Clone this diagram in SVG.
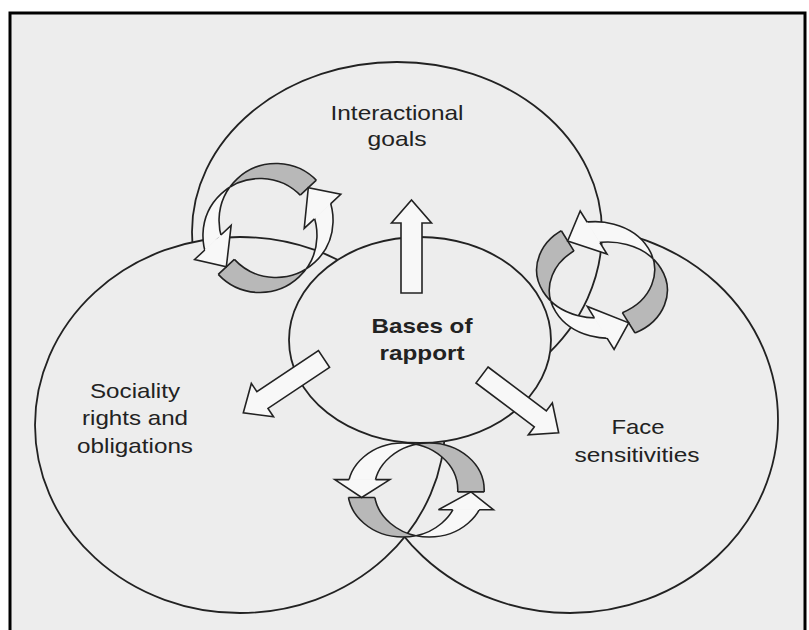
<svg xmlns="http://www.w3.org/2000/svg" width="809" height="630" viewBox="0 0 809 630">
<style>
.frame{fill:#ededed;stroke:#000;stroke-width:3}
.ring{fill:#ededed;stroke:#222;stroke-width:1.8}
.rib{fill-rule:evenodd;stroke:#222;stroke-width:1.6;vector-effect:non-scaling-stroke}
.g{fill:#b8b8b8}
.w{fill:#f8f8f8}
.edge{fill:none;stroke:#222;stroke-width:1.6;vector-effect:non-scaling-stroke}
.head{fill:#f8f8f8;stroke:#222;stroke-width:1.6;stroke-linejoin:miter;vector-effect:non-scaling-stroke}
.arrow{fill:#f8f8f8;stroke:#222;stroke-width:1.6}
.lbl{font-family:"Liberation Sans",Arial,sans-serif;font-size:21px;fill:#222;text-anchor:middle}
.b{font-weight:bold}
</style>
<defs>
<clipPath id="cLg"><rect x="0" y="-100" width="100" height="98"/><rect x="-100" y="0" width="100" height="100"/></clipPath>
<clipPath id="cLw"><rect x="0" y="25" width="100" height="75"/><rect x="-100" y="-100" width="100" height="73"/></clipPath>
<clipPath id="cBg"><rect x="0" y="-100" width="100" height="102"/><rect x="-100" y="8" width="100" height="92"/></clipPath>
<clipPath id="cBw"><rect x="0" y="21" width="100" height="79"/><rect x="-100" y="-100" width="100" height="89"/></clipPath>
<clipPath id="cRg"><rect x="0" y="-100" width="100" height="100"/><rect x="-100" y="8" width="100" height="92"/></clipPath>
<clipPath id="cRw"><rect x="0" y="25" width="100" height="75"/><rect x="-100" y="-100" width="100" height="83"/></clipPath>
</defs>
<rect x="0" y="0" width="809" height="630" fill="#ffffff"/>
<rect class="frame" x="10" y="13" width="795" height="640"/>

<g id="node-face">
<ellipse class="ring" cx="570" cy="420" rx="208" ry="193"/>
<text class="lbl" x="638" y="434" textLength="53" lengthAdjust="spacingAndGlyphs">Face</text>
<text class="lbl" x="637" y="462" textLength="125" lengthAdjust="spacingAndGlyphs">sensitivities</text>
</g>
<g id="node-goals">
<path class="ring" d="M 192 232 A 205 170 0 0 1 602 232 A 205 180 0 0 1 192 232 Z"/>
<text class="lbl" x="397" y="120" textLength="133" lengthAdjust="spacingAndGlyphs">Interactional</text>
<text class="lbl" x="397" y="146" textLength="59" lengthAdjust="spacingAndGlyphs">goals</text>
</g>
<g id="node-sociality">
<ellipse class="ring" cx="240" cy="425" rx="205" ry="188"/>
<text class="lbl" x="135" y="398" textLength="90" lengthAdjust="spacingAndGlyphs">Sociality</text>
<text class="lbl" x="135" y="425" textLength="106" lengthAdjust="spacingAndGlyphs">rights and</text>
<text class="lbl" x="135" y="453" textLength="116" lengthAdjust="spacingAndGlyphs">obligations</text>
</g>
<g id="node-bases">
<ellipse class="ring" cx="420" cy="340" rx="131" ry="103"/>
<text class="lbl b" x="422" y="333" textLength="101" lengthAdjust="spacingAndGlyphs">Bases of</text>
<text class="lbl b" x="422" y="360" textLength="85" lengthAdjust="spacingAndGlyphs">rapport</text>
</g>

<g id="connectors">
<polygon class="arrow" points="0,-10.5 70,-10.5 70,-20 93,0 70,20 70,10.5 0,10.5" transform="translate(411.5,293) rotate(-90)"/>
<polygon class="arrow" points="0,-10 74,-10 74,-20 97,0 74,20 74,10 0,10" transform="translate(324,359) rotate(146.3)"/>
<polygon class="arrow" points="0,-10 73,-10 73,-20 96,0 73,20 73,10 0,10" transform="translate(482,375) rotate(37)"/>

<g id="cycle-goals-sociality" transform="translate(268,228) rotate(-43)">
<path class="rib g" clip-path="url(#cLg)" d="M -68 0 A 57 57 0 1 0 46 0 A 57 57 0 1 0 -68 0 Z M -46 0 A 57 57 0 1 0 68 0 A 57 57 0 1 0 -46 0 Z"/>
<path class="rib w" clip-path="url(#cLw)" d="M -68 0 A 57 57 0 1 0 46 0 A 57 57 0 1 0 -68 0 Z M -46 0 A 57 57 0 1 0 68 0 A 57 57 0 1 0 -46 0 Z"/>
<path class="edge" d="M 45.96 -2 L 67.96 -2 M -46 0 L -68 0"/>
<path class="head" d="M 40.2 25 L 26.2 25 L 57 -2 L 76.2 25 L 62.2 25"/>
<path class="head" d="M -39.2 -27 L -25.2 -27 L -57 0 L -75.2 -27 L -61.2 -27"/>
</g>

<g id="cycle-sociality-face" transform="translate(416,490) scale(1.1,0.94)">
<path class="rib g" clip-path="url(#cBg)" d="M -62 0 A 50 50 0 1 0 38 0 A 50 50 0 1 0 -62 0 Z M -38 0 A 50 50 0 1 0 62 0 A 50 50 0 1 0 -38 0 Z"/>
<path class="rib w" clip-path="url(#cBw)" d="M -62 0 A 50 50 0 1 0 38 0 A 50 50 0 1 0 -62 0 Z M -38 0 A 50 50 0 1 0 62 0 A 50 50 0 1 0 -38 0 Z"/>
<path class="edge" d="M 38 2 L 62 2 M -37.4 8 L -61.4 8"/>
<path class="head" d="M 33.4 21 L 20.4 21 L 50 2 L 70.4 21 L 57.4 21"/>
<path class="head" d="M -36.8 -11 L -23.8 -11 L -49.4 8 L -73.8 -11 L -60.8 -11"/>
</g>

<g id="cycle-goals-face" transform="translate(602,280) scale(1.113,0.906) rotate(63.1)">
<path class="rib g" clip-path="url(#cRg)" d="M -65.6 0 A 53 53 0 1 0 40.4 0 A 53 53 0 1 0 -65.6 0 Z M -40.4 0 A 53 53 0 1 0 65.6 0 A 53 53 0 1 0 -40.4 0 Z"/>
<path class="rib w" clip-path="url(#cRw)" d="M -65.6 0 A 53 53 0 1 0 40.4 0 A 53 53 0 1 0 -65.6 0 Z M -40.4 0 A 53 53 0 1 0 65.6 0 A 53 53 0 1 0 -40.4 0 Z"/>
<path class="edge" d="M 40.4 0 L 65.6 0 M -39.8 8 L -65 8"/>
<path class="head" d="M 34.1 25 L 20.1 25 L 53 0 L 73.3 25 L 59.3 25"/>
<path class="head" d="M -37.6 -17 L -23.6 -17 L -52.4 8 L -76.8 -17 L -62.8 -17"/>
</g>
</g>
</svg>
